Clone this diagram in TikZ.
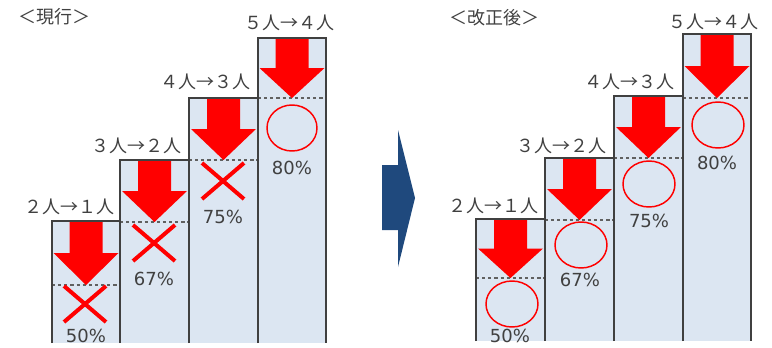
\documentclass[tikz,border=0pt]{standalone}
\usepackage{fontspec}
\setmainfont{DejaVu Sans}
\newfontfamily\jpfont{Noto Sans CJK JP}
\definecolor{colfill}{HTML}{DCE6F2}
\definecolor{colline}{HTML}{404040}
\definecolor{txtgray}{HTML}{404040}
\definecolor{bluearrow}{HTML}{1F497D}
\definecolor{redmark}{HTML}{FF0000}
\tikzset{
  colborder/.style={draw=colline, line width=1.3pt},
  dashline/.style={draw=gray!75!black, dashed, dash pattern=on 2.4pt off 2.2pt, line width=0.9pt},
  redarrow/.style={fill=redmark},
  crossline/.style={draw=redmark, line width=3pt},
  okcircle/.style={draw=redmark, line width=1.1pt},
  pct/.style={text=txtgray, font=\fontsize{13.5}{14}\selectfont, inner sep=0pt},
  steplabel/.style={text=txtgray, font=\jpfont\fontsize{13.5}{14}\selectfont, inner sep=0pt},
  titlelabel/.style={text=txtgray, font=\jpfont\fontsize{13.5}{14}\selectfont, inner sep=0pt},
}
% #1 xl, #2 xr, #3 top, #4 dash, #5 bottom
\newcommand\stepcolumn[5]{%
  \pgfmathsetmacro\cx{(#1+#2)/2}%
  \pgfmathsetmacro\sm{(#3+#4)/2}%
  \fill[colfill] (#1,#3) rectangle (#2,#5);
  \draw[dashline] (#1,#4) -- (#2,#4);
  \fill[redarrow] (\cx-16.5,#3) -- (\cx+16.5,#3) -- (\cx+16.5,\sm) -- (\cx+32.5,\sm) -- (\cx,#4) -- (\cx-32.5,\sm) -- (\cx-16.5,\sm) -- cycle;
}
\newcommand\colborder[4]{% xl xr top bottom
  \draw[colborder] (#1,#4) -- (#1,#3) -- (#2,#3) -- (#2,#4);
}
\newcommand\crossmark[2]{%
  \draw[crossline] (#1-21,#2-18) -- (#1+21,#2+18);
  \draw[crossline] (#1-21,#2+18) -- (#1+21,#2-18);
}
\begin{document}
\begin{tikzpicture}[x=0.75pt,y=-0.75pt]
\useasboundingbox (0,0) rectangle (772,347);
% ---------- left group ----------
\stepcolumn{52}{120}{221}{285}{343}
\stepcolumn{120}{189}{160}{222}{343}
\stepcolumn{189}{258}{98}{160}{343}
\stepcolumn{258}{326}{38}{98}{343}
\colborder{52}{120}{221}{343}
\colborder{120}{189}{160}{343}
\colborder{189}{258}{98}{343}
\colborder{258}{326}{38}{343}
\crossmark{85}{304}
\crossmark{154}{243}
\crossmark{223}{181}
\draw[okcircle] (292,128) ellipse [x radius=25, y radius=23];
\node[pct] (lp1) at (86,336) {50\%};
\node[pct] (lp2) at (154,279) {67\%};
\node[pct] (lp3) at (223,217) {75\%};
\node[pct] (lp4) at (292,168) {80\%};
\node[steplabel] (ll1) at (69,207) {２人→１人};
\node[steplabel] (ll2) at (136,146) {３人→２人};
\node[steplabel] (ll3) at (205,82) {４人→３人};
\node[steplabel] (ll4) at (289,23) {５人→４人};
\node[titlelabel] (lt) at (54,17) {＜現行＞};
% ---------- center arrow ----------
\fill[bluearrow] (382,165) -- (398,165) -- (398,130) -- (415,198) -- (398,267) -- (398,230) -- (382,230) -- cycle;
% ---------- right group ----------
\stepcolumn{476}{545}{219}{278}{341}
\stepcolumn{545}{614}{158}{220}{341}
\stepcolumn{614}{683}{96}{158}{341}
\stepcolumn{683}{751}{34}{98}{341}
\colborder{476}{545}{219}{341}
\colborder{545}{614}{158}{341}
\colborder{614}{683}{96}{341}
\colborder{683}{751}{34}{341}
\draw[okcircle] (512,304) ellipse [x radius=26, y radius=23];
\draw[okcircle] (581,245) ellipse [x radius=26, y radius=23];
\draw[okcircle] (649,184) ellipse [x radius=26, y radius=23];
\draw[okcircle] (718,125) ellipse [x radius=26, y radius=23];
\node[pct] (rp1) at (510,336) {50\%};
\node[pct] (rp2) at (580,280) {67\%};
\node[pct] (rp3) at (649,221) {75\%};
\node[pct] (rp4) at (717,163) {80\%};
\node[steplabel] (rl1) at (493,206) {２人→１人};
\node[steplabel] (rl2) at (561,146) {３人→２人};
\node[steplabel] (rl3) at (629,82) {４人→３人};
\node[steplabel] (rl4) at (713,22) {５人→４人};
\node[titlelabel] (rt) at (494,18) {＜改正後＞};
\end{tikzpicture}
\end{document}
